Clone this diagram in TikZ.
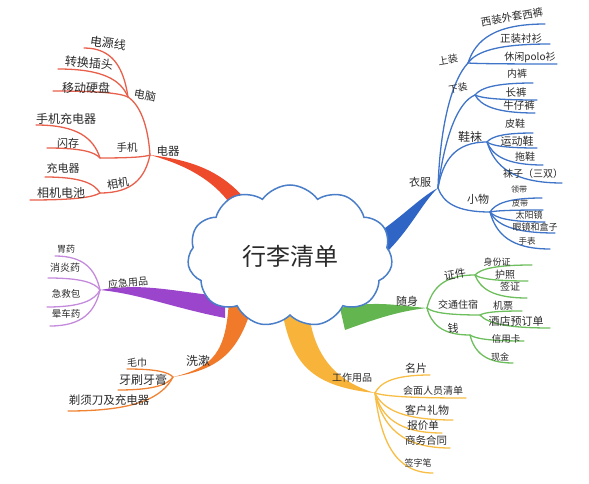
\documentclass[tikz,border=0pt]{standalone}
\usepackage{fontspec}
\newfontfamily\cjk{Noto Sans CJK SC}
\usetikzlibrary{calc,shapes.symbols}
\definecolor{ink}{HTML}{2A2A2A}
\definecolor{rd}{HTML}{E8604C}
\definecolor{rdk}{HTML}{EE4A2C}
\definecolor{bl}{HTML}{3F74C8}
\definecolor{blk}{HTML}{2F66C6}
\definecolor{gr}{HTML}{6DBE5C}
\definecolor{grk}{HTML}{63B54F}
\definecolor{yl}{HTML}{F7BD45}
\definecolor{ylk}{HTML}{F8B43A}
\definecolor{orl}{HTML}{F08233}
\definecolor{ork}{HTML}{F07A2A}
\definecolor{pu}{HTML}{C48BDC}
\definecolor{puk}{HTML}{9B45CC}
\definecolor{cl}{HTML}{4A7EC8}
\newcommand\leafline[3]{\draw[#1] let \p1=(#2),\p2=(#3) in (\p1) .. controls ({\x1+0.1*(\x2-\x1)},{\y1+0.6*(\y2-\y1)}) and ({\x1+0.35*(\x2-\x1)},{\y2}) .. (\p2);}
\begin{document}
\begin{tikzpicture}[x=1pt,y=-1pt,line width=1.3pt,line cap=round,
  lbl/.style={inner sep=0pt, text=ink, font=\cjk\fontsize{#1}{#1}\selectfont}]
\useasboundingbox (0,0) rectangle (589,484);
% junctions
\coordinate (dq) at (150,155);
\coordinate (dn) at (128,97);
\coordinate (sj) at (100,158);
\coordinate (xj) at (100,193);
\coordinate (yf) at (438,188);
\coordinate (sz) at (468,63);
\coordinate (xz) at (475,95);
\coordinate (xw) at (487,142);
\coordinate (xa) at (490,212);
\coordinate (ss) at (427,308);
\coordinate (zj) at (475,275);
\coordinate (jt) at (480,315);
\coordinate (qj) at (470,335);
\coordinate (gz) at (375,393);
\coordinate (xs) at (173,377);
\coordinate (yj) at (100,290);
% thick branches
\fill[rdk] (dq) .. controls (190,160) and (228,170) .. (256,214) -- (240,220) .. controls (222,184) and (190,166) .. (dq) -- cycle;
\fill[blk] (360,244) .. controls (395,225) and (418,198) .. (yf) .. controls (422,202) and (405,240) .. (375,262) -- cycle;
\fill[grk] (340,308) .. controls (375,300) and (400,306) .. (ss) .. controls (400,311) and (378,318) .. (345,330) -- cycle;
\fill[ylk] (281,305) .. controls (290,358) and (305,386) .. (gz) .. controls (332,380) and (312,352) .. (308,305) -- cycle;
\fill[ork] (229,300) .. controls (226,352) and (214,367) .. (xs) .. controls (222,369) and (240,350) .. (254,300) -- cycle;
\fill[puk] (yj) .. controls (140,283) and (168,290) .. (225,297) -- (225,318) .. controls (170,307) and (140,294) .. (yj) -- cycle;
% cloud
\node[cloud, cloud puffs=11, cloud puff arc=110, cloud ignores aspect, minimum width=205pt, minimum height=142pt,
  draw=cl, line width=1.5pt, fill=white, lbl=24] (c) at (290,256) {行李清单};
% red leaves
\coordinate (e1) at (84,48);
\coordinate (e2) at (58,69);
\coordinate (e3) at (53,91);
\coordinate (e4) at (36,125);
\coordinate (e5) at (47,148);
\coordinate (e6) at (45,177);
\coordinate (e7) at (30,200);
\draw[rd] (dq) .. controls (148,125) and (140,105) .. (dn);
\leafline{rd}{dq}{sj}
\leafline{rd}{dq}{xj}
\leafline{rd}{dn}{e1}
\leafline{rd}{dn}{e2}
\leafline{rd}{dn}{e3}
\leafline{rd}{sj}{e4}
\leafline{rd}{sj}{e5}
\leafline{rd}{xj}{e6}
\leafline{rd}{xj}{e7}
% blue leaves
\coordinate (b1) at (545,24);
\coordinate (b2) at (550,44);
\coordinate (b3) at (557,64);
\coordinate (b4) at (533,83);
\coordinate (b5) at (537,100);
\coordinate (b6) at (535,113);
\coordinate (b7) at (533,133);
\coordinate (b8) at (537,148);
\coordinate (b9) at (543,165);
\coordinate (b10) at (562,183);
\coordinate (b11) at (542,198);
\coordinate (b12) at (543,210);
\coordinate (b13) at (545,222);
\coordinate (b14) at (555,233);
\coordinate (b15) at (550,249);
\draw[bl] (yf) .. controls (440,125) and (452,80) .. (sz);
\draw[bl] (yf) .. controls (445,135) and (458,102) .. (xz);
\leafline{bl}{yf}{xw}
\leafline{bl}{yf}{xa}
\leafline{bl}{sz}{b1}
\leafline{bl}{sz}{b2}
\leafline{bl}{sz}{b3}
\leafline{bl}{xz}{b4}
\leafline{bl}{xz}{b5}
\leafline{bl}{xz}{b6}
\leafline{bl}{xw}{b7}
\leafline{bl}{xw}{b8}
\leafline{bl}{xw}{b9}
\leafline{bl}{xw}{b10}
\leafline{bl}{xa}{b11}
\leafline{bl}{xa}{b12}
\leafline{bl}{xa}{b13}
\leafline{bl}{xa}{b14}
\leafline{bl}{xa}{b15}
% green leaves
\coordinate (g1) at (532,265);
\coordinate (g2) at (528,281);
\coordinate (g3) at (527,298);
\coordinate (g4) at (522,311);
\coordinate (g5) at (550,328);
\coordinate (g6) at (524,341);
\coordinate (g7) at (513,363);
\leafline{gr}{ss}{zj}
\leafline{gr}{ss}{jt}
\leafline{gr}{ss}{qj}
\leafline{gr}{zj}{g1}
\leafline{gr}{zj}{g2}
\leafline{gr}{zj}{g3}
\leafline{gr}{jt}{g4}
\leafline{gr}{jt}{g5}
\leafline{gr}{qj}{g6}
\leafline{gr}{qj}{g7}
% yellow leaves
\coordinate (y1) at (430,375);
\coordinate (y2) at (466,398);
\coordinate (y3) at (453,420);
\coordinate (y4) at (442,433);
\coordinate (y5) at (450,448);
\coordinate (y6) at (433,473);
\leafline{yl}{gz}{y1}
\leafline{yl}{gz}{y2}
\leafline{yl}{gz}{y3}
\leafline{yl}{gz}{y4}
\leafline{yl}{gz}{y5}
\leafline{yl}{gz}{y6}
% orange leaves
\coordinate (o1) at (127,369);
\coordinate (o2) at (118,390);
\coordinate (o3) at (68,411);
\leafline{orl}{xs}{o1}
\leafline{orl}{xs}{o2}
\leafline{orl}{xs}{o3}
% purple leaves
\coordinate (p1) at (55,256);
\coordinate (p2) at (48,278);
\coordinate (p3) at (47,307);
\coordinate (p4) at (50,326);
\leafline{pu}{yj}{p1}
\leafline{pu}{yj}{p2}
\leafline{pu}{yj}{p3}
\leafline{pu}{yj}{p4}
% red labels
\node[lbl=11.5] (tdq) at (168,151) {电器};
\node[lbl=11, rotate=-10] (tdn) at (145,95) {电脑};
\node[lbl=12, rotate=-8] (t1) at (108,43) {电源线};
\node[lbl=12, rotate=-5] (t2) at (89,63) {转换插头};
\node[lbl=12] (t3) at (86,88) {移动硬盘};
\node[lbl=12] (t4) at (66,119) {手机充电器};
\node[lbl=11] (t5) at (68,143) {闪存};
\node[lbl=10.5] (tsj) at (127,148) {手机};
\node[lbl=11] (t6) at (63,168) {充电器};
\node[lbl=12] (t7) at (61,193) {相机电池};
\node[lbl=11, rotate=10] (txj) at (118,183) {相机};
% blue labels
\node[lbl=11] (tyf) at (420,182) {衣服};
\node[lbl=10, rotate=10] (tsz) at (448,60) {上装};
\node[lbl=9.5, rotate=10] (txz) at (458,88) {下装};
\node[lbl=12] (txw) at (470,137) {鞋袜};
\node[lbl=11] (txa) at (478,199) {小物};
\node[lbl=10.5, rotate=10] (u1) at (512,17) {西装外套西裤};
\node[lbl=10.5] (u2) at (521,39) {正装衬衫};
\node[lbl=10] (u3) at (530,57) {休闲polo衫};
\node[lbl=10] (u4) at (517,74) {内裤};
\node[lbl=10.5] (u5) at (516,93) {长裤};
\node[lbl=10.5] (u6) at (519,106) {牛仔裤};
\node[lbl=10] (u7) at (515,124) {皮鞋};
\node[lbl=11] (u8) at (517,141) {运动鞋};
\node[lbl=10] (u9) at (525,157) {拖鞋};
\node[lbl=10] (u10) at (533,174) {袜子（三双）};
\node[lbl=8] (u11) at (519,189) {领带};
\node[lbl=8] (u12) at (520,203) {皮带};
\node[lbl=9] (u13) at (529,215) {太阳镜};
\node[lbl=9] (u14) at (535,227) {眼镜和盒子};
\node[lbl=8.5] (u15) at (527,241) {手表};
% green labels
\node[lbl=11] (tss) at (407,301) {随身};
\node[lbl=11, rotate=10] (tzj) at (455,274) {证件};
\node[lbl=10] (tjt) at (458,305) {交通住宿};
\node[lbl=11] (tqj) at (453,328) {钱};
\node[lbl=9] (v1) at (497,262) {身份证};
\node[lbl=10] (v2) at (505,275) {护照};
\node[lbl=10] (v3) at (510,287) {签证};
\node[lbl=10] (v4) at (503,306) {机票};
\node[lbl=11] (v5) at (516,321) {酒店预订单};
\node[lbl=9.5] (v6) at (506,339) {信用卡};
\node[lbl=9] (v7) at (500,357) {现金};
% yellow labels
\node[lbl=10] (tgz) at (352,378) {工作用品};
\node[lbl=11] (w1) at (416,368) {名片};
\node[lbl=10] (w2) at (433,391) {会面人员清单};
\node[lbl=11] (w3) at (427,410) {客户礼物};
\node[lbl=10.5] (w4) at (423,426) {报价单};
\node[lbl=10.5] (w5) at (426,440) {商务合同};
\node[lbl=9] (w6) at (418,463) {签字笔};
% orange labels
\node[lbl=12] (txs) at (198,361) {洗漱};
\node[lbl=10] (x1) at (137,363) {毛巾};
\node[lbl=12] (x2) at (143,380) {牙刷牙膏};
\node[lbl=11.5] (x3) at (109,400) {剃须刀及充电器};
% purple labels
\node[lbl=10, rotate=5] (tyj) at (128,283) {应急用品};
\node[lbl=9] (z1) at (66,249) {胃药};
\node[lbl=10] (z2) at (65,268) {消炎药};
\node[lbl=9.5] (z3) at (66,294) {急救包};
\node[lbl=9.5] (z4) at (66,314) {晕车药};
\end{tikzpicture}
\end{document}
